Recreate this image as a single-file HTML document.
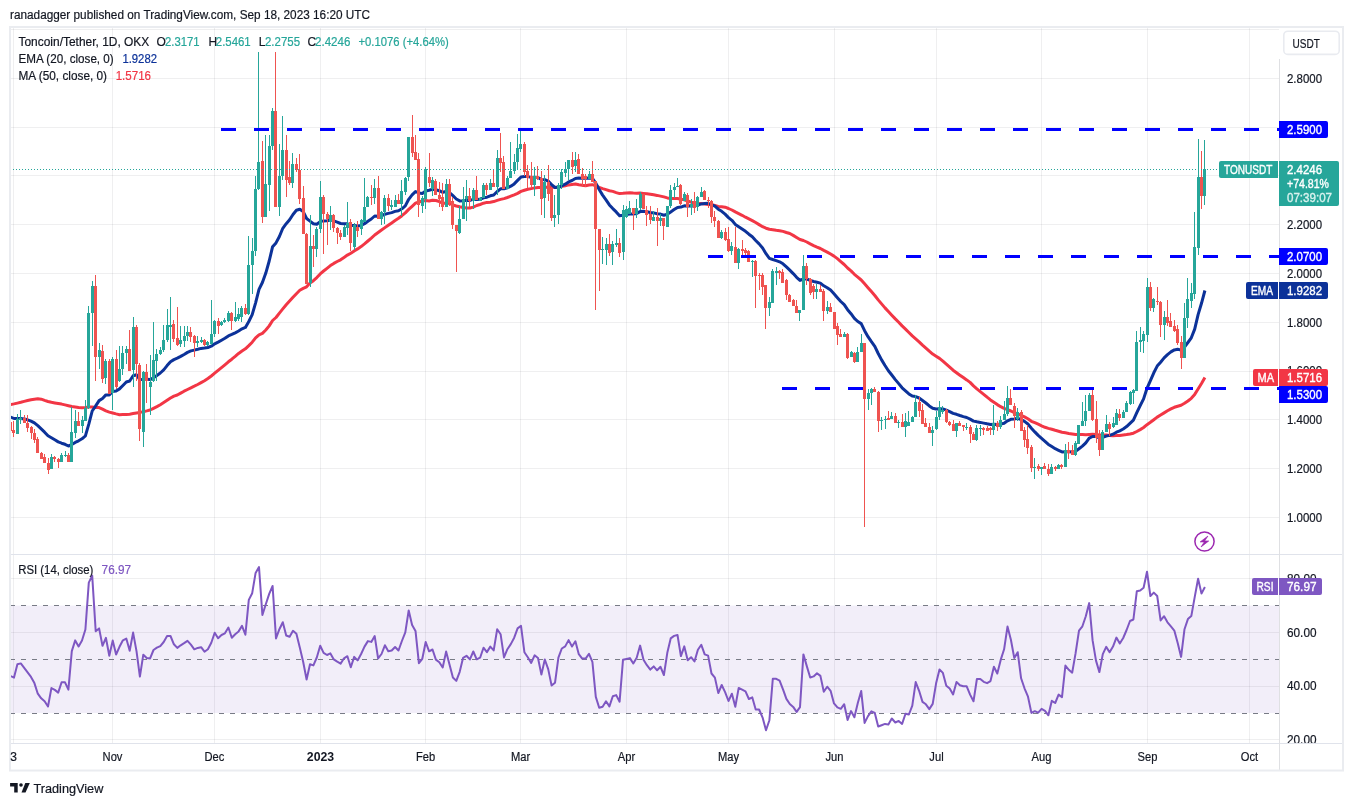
<!DOCTYPE html>
<html><head><meta charset="utf-8"><style>
html,body{margin:0;padding:0;background:#fff;width:1353px;height:806px;overflow:hidden}
svg{display:block;font-family:"Liberation Sans", sans-serif;will-change:transform}
</style></head><body>
<svg width="1353" height="806" viewBox="0 0 1353 806">
<defs><clipPath id="pane"><rect x="11" y="28" width="1268" height="526"/></clipPath><clipPath id="rsiaxis"><rect x="1280" y="555" width="62" height="188"/></clipPath><clipPath id="rsipane"><rect x="11" y="555" width="1268" height="188"/></clipPath></defs>
<rect x="0" y="0" width="1353" height="806" fill="#ffffff"/><line x1="13.5" y1="28" x2="13.5" y2="743" stroke="#2a2e39" stroke-opacity="0.075" stroke-width="1"/><line x1="112.5" y1="28" x2="112.5" y2="743" stroke="#2a2e39" stroke-opacity="0.075" stroke-width="1"/><line x1="214.5" y1="28" x2="214.5" y2="743" stroke="#2a2e39" stroke-opacity="0.075" stroke-width="1"/><line x1="320.5" y1="28" x2="320.5" y2="743" stroke="#2a2e39" stroke-opacity="0.075" stroke-width="1"/><line x1="425.5" y1="28" x2="425.5" y2="743" stroke="#2a2e39" stroke-opacity="0.075" stroke-width="1"/><line x1="520.5" y1="28" x2="520.5" y2="743" stroke="#2a2e39" stroke-opacity="0.075" stroke-width="1"/><line x1="626.5" y1="28" x2="626.5" y2="743" stroke="#2a2e39" stroke-opacity="0.075" stroke-width="1"/><line x1="728.5" y1="28" x2="728.5" y2="743" stroke="#2a2e39" stroke-opacity="0.075" stroke-width="1"/><line x1="834.5" y1="28" x2="834.5" y2="743" stroke="#2a2e39" stroke-opacity="0.075" stroke-width="1"/><line x1="936.5" y1="28" x2="936.5" y2="743" stroke="#2a2e39" stroke-opacity="0.075" stroke-width="1"/><line x1="1041.5" y1="28" x2="1041.5" y2="743" stroke="#2a2e39" stroke-opacity="0.075" stroke-width="1"/><line x1="1147.5" y1="28" x2="1147.5" y2="743" stroke="#2a2e39" stroke-opacity="0.075" stroke-width="1"/><line x1="1249.5" y1="28" x2="1249.5" y2="743" stroke="#2a2e39" stroke-opacity="0.075" stroke-width="1"/><line x1="11" y1="29.5" x2="1279" y2="29.5" stroke="#2a2e39" stroke-opacity="0.075" stroke-width="1"/><line x1="11" y1="78.5" x2="1279" y2="78.5" stroke="#2a2e39" stroke-opacity="0.075" stroke-width="1"/><line x1="11" y1="127.5" x2="1279" y2="127.5" stroke="#2a2e39" stroke-opacity="0.075" stroke-width="1"/><line x1="11" y1="175.5" x2="1279" y2="175.5" stroke="#2a2e39" stroke-opacity="0.075" stroke-width="1"/><line x1="11" y1="224.5" x2="1279" y2="224.5" stroke="#2a2e39" stroke-opacity="0.075" stroke-width="1"/><line x1="11" y1="273.5" x2="1279" y2="273.5" stroke="#2a2e39" stroke-opacity="0.075" stroke-width="1"/><line x1="11" y1="322.5" x2="1279" y2="322.5" stroke="#2a2e39" stroke-opacity="0.075" stroke-width="1"/><line x1="11" y1="371.5" x2="1279" y2="371.5" stroke="#2a2e39" stroke-opacity="0.075" stroke-width="1"/><line x1="11" y1="419.5" x2="1279" y2="419.5" stroke="#2a2e39" stroke-opacity="0.075" stroke-width="1"/><line x1="11" y1="468.5" x2="1279" y2="468.5" stroke="#2a2e39" stroke-opacity="0.075" stroke-width="1"/><line x1="11" y1="517.5" x2="1279" y2="517.5" stroke="#2a2e39" stroke-opacity="0.075" stroke-width="1"/><rect x="11" y="605.55" width="1268" height="107.5" fill="#7e57c2" fill-opacity="0.1"/><line x1="11" y1="578.5" x2="1279" y2="578.5" stroke="#2a2e39" stroke-opacity="0.075" stroke-width="1"/><line x1="11" y1="632.5" x2="1279" y2="632.5" stroke="#2a2e39" stroke-opacity="0.075" stroke-width="1"/><line x1="11" y1="686.5" x2="1279" y2="686.5" stroke="#2a2e39" stroke-opacity="0.075" stroke-width="1"/><line x1="11" y1="739.5" x2="1279" y2="739.5" stroke="#2a2e39" stroke-opacity="0.075" stroke-width="1"/><line x1="11" y1="605.5" x2="1279" y2="605.5" stroke="#787b86" stroke-width="1" stroke-dasharray="5,6" stroke-dashoffset="1"/><line x1="11" y1="659.5" x2="1279" y2="659.5" stroke="#787b86" stroke-width="1" stroke-dasharray="5,6" stroke-dashoffset="1"/><line x1="11" y1="713.5" x2="1279" y2="713.5" stroke="#787b86" stroke-width="1" stroke-dasharray="5,6" stroke-dashoffset="1"/><g clip-path="url(#pane)"><path d="M10.6,404.6 L14.0,403.9 L17.4,403.1 L20.8,402.3 L24.2,401.4 L27.6,400.5 L31.0,399.7 L34.4,399.2 L37.8,398.8 L41.2,399.2 L44.6,400.4 L48.0,401.5 L51.4,402.3 L54.8,402.9 L58.2,403.5 L61.6,404.1 L65.0,404.9 L68.4,405.7 L71.8,406.5 L75.2,407.0 L78.6,407.5 L82.0,407.8 L85.4,407.5 L88.8,407.1 L92.2,407.1 L95.7,407.4 L99.1,407.6 L102.5,409.2 L105.9,410.9 L109.3,412.1 L112.7,413.0 L116.1,413.9 L119.5,414.7 L122.9,414.5 L126.3,414.4 L129.7,414.2 L133.1,413.6 L136.5,413.0 L139.9,412.4 L143.3,411.7 L146.7,410.9 L150.1,410.0 L153.5,408.3 L156.9,406.6 L160.3,404.7 L163.7,402.5 L167.1,400.2 L170.5,398.0 L173.9,396.1 L177.3,395.0 L180.7,393.1 L184.1,391.2 L187.5,389.5 L190.9,387.8 L194.3,386.2 L197.7,384.5 L201.1,382.6 L204.5,380.7 L207.9,378.5 L211.3,376.0 L214.7,373.2 L218.1,370.3 L221.5,367.6 L224.9,364.8 L228.4,361.8 L231.8,359.2 L235.2,356.4 L238.6,353.4 L242.0,351.0 L245.4,348.8 L248.8,345.6 L252.2,342.2 L255.6,337.8 L259.0,334.8 L262.4,333.4 L265.8,330.0 L269.2,325.9 L272.6,320.5 L276.0,317.5 L279.4,313.1 L282.8,308.9 L286.2,304.8 L289.6,301.1 L293.0,297.3 L296.4,293.7 L299.8,290.3 L303.2,288.4 L306.6,286.8 L310.0,283.1 L313.4,280.7 L316.8,277.6 L320.2,273.9 L323.6,271.0 L327.0,268.3 L330.4,265.6 L333.8,263.4 L337.2,261.5 L340.6,259.8 L344.0,257.5 L347.4,255.1 L350.8,253.2 L354.2,250.9 L357.6,248.9 L361.1,246.6 L364.5,243.9 L367.9,241.0 L371.3,238.1 L374.7,235.0 L378.1,232.5 L381.5,230.1 L384.9,227.6 L388.3,225.2 L391.7,222.9 L395.1,220.5 L398.5,218.3 L401.9,215.7 L405.3,212.9 L408.7,209.4 L412.1,206.3 L415.5,203.2 L418.9,202.0 L422.3,201.0 L425.7,200.6 L429.1,201.0 L432.5,200.2 L435.9,200.5 L439.3,201.5 L442.7,203.4 L446.1,203.0 L449.5,203.5 L452.9,205.0 L456.3,206.0 L459.7,206.8 L463.1,207.5 L466.5,208.0 L469.9,208.0 L473.3,207.1 L476.7,205.5 L480.1,204.5 L483.5,203.2 L486.9,202.4 L490.3,202.2 L493.7,201.6 L497.2,200.4 L500.6,199.4 L504.0,198.6 L507.4,197.5 L510.8,196.2 L514.2,194.9 L517.6,193.4 L521.0,191.4 L524.4,190.3 L527.8,189.3 L531.2,188.6 L534.6,187.9 L538.0,187.6 L541.4,187.6 L544.8,187.5 L548.2,187.0 L551.6,187.1 L555.0,187.4 L558.4,187.0 L561.8,186.4 L565.2,185.7 L568.6,184.9 L572.0,184.4 L575.4,184.0 L578.8,184.8 L582.2,185.3 L585.6,185.7 L589.0,185.0 L592.4,184.7 L595.8,185.9 L599.2,187.3 L602.6,188.6 L606.0,189.6 L609.4,190.7 L612.8,191.4 L616.2,192.6 L619.6,193.6 L623.0,193.3 L626.4,192.9 L629.9,192.7 L633.3,193.0 L636.7,193.2 L640.1,193.1 L643.5,193.4 L646.9,193.7 L650.3,194.2 L653.7,194.8 L657.1,195.4 L660.5,196.1 L663.9,196.9 L667.3,197.9 L670.7,198.4 L674.1,198.4 L677.5,198.5 L680.9,199.2 L684.3,199.8 L687.7,201.0 L691.1,202.2 L694.5,202.9 L697.9,203.3 L701.3,203.5 L704.7,203.9 L708.1,204.4 L711.5,204.7 L714.9,205.5 L718.3,206.4 L721.7,206.7 L725.1,207.2 L728.5,208.5 L731.9,210.0 L735.3,211.9 L738.7,213.6 L742.1,215.3 L745.5,217.2 L748.9,218.9 L752.3,220.6 L755.7,222.5 L759.1,224.6 L762.6,226.7 L766.0,228.2 L769.4,229.3 L772.8,229.7 L776.2,230.3 L779.6,230.7 L783.0,231.4 L786.4,232.5 L789.8,233.5 L793.2,235.4 L796.6,237.5 L800.0,239.5 L803.4,240.5 L806.8,242.0 L810.2,243.9 L813.6,245.6 L817.0,247.1 L820.4,248.5 L823.8,250.4 L827.2,252.1 L830.6,254.0 L834.0,256.1 L837.4,258.6 L840.8,261.6 L844.2,264.5 L847.6,268.0 L851.0,270.9 L854.4,274.3 L857.8,277.2 L861.2,280.0 L864.6,283.8 L868.0,287.7 L871.4,291.6 L874.8,295.5 L878.2,299.9 L881.6,303.9 L885.0,307.9 L888.4,311.5 L891.8,315.2 L895.3,318.9 L898.7,322.3 L902.1,325.9 L905.5,329.1 L908.9,332.5 L912.3,335.9 L915.7,338.8 L919.1,341.8 L922.5,345.1 L925.9,348.1 L929.3,351.2 L932.7,354.1 L936.1,356.3 L939.5,358.4 L942.9,361.2 L946.3,364.2 L949.7,367.2 L953.1,370.2 L956.5,372.7 L959.9,375.2 L963.3,377.6 L966.7,379.9 L970.1,382.4 L973.5,385.9 L976.9,388.9 L980.3,391.6 L983.7,394.3 L987.1,397.2 L990.5,399.9 L993.9,402.2 L997.3,404.6 L1000.7,406.7 L1004.1,408.4 L1007.5,409.7 L1010.9,411.0 L1014.3,412.7 L1017.7,413.8 L1021.1,415.3 L1024.5,416.9 L1027.9,418.8 L1031.4,421.3 L1034.8,422.7 L1038.2,424.2 L1041.6,425.8 L1045.0,427.3 L1048.4,428.4 L1051.8,429.3 L1055.2,430.3 L1058.6,431.2 L1062.0,432.2 L1065.4,432.8 L1068.8,433.4 L1072.2,433.9 L1075.6,434.4 L1079.0,434.4 L1082.4,434.5 L1085.8,434.7 L1089.2,434.4 L1092.6,434.3 L1096.0,434.5 L1099.4,434.9 L1102.8,434.9 L1106.2,435.0 L1109.6,435.5 L1113.0,435.7 L1116.4,435.6 L1119.8,435.4 L1123.2,435.0 L1126.6,434.6 L1130.0,434.0 L1133.4,433.2 L1136.8,431.5 L1140.2,429.6 L1143.6,427.5 L1147.0,424.7 L1150.4,422.3 L1153.8,419.7 L1157.2,417.1 L1160.6,415.0 L1164.1,412.9 L1167.5,410.8 L1170.9,408.9 L1174.3,407.3 L1177.7,406.2 L1181.1,405.2 L1184.5,403.3 L1187.9,401.0 L1191.3,398.3 L1194.7,394.4 L1198.1,389.0 L1201.5,383.5 L1204.9,377.6" stroke="#f23645" stroke-width="3" fill="none" stroke-linejoin="round"/><path d="M10.6,417.0 L14.0,418.5 L17.4,418.6 L20.8,418.5 L24.2,418.9 L27.6,419.8 L31.0,421.1 L34.4,422.9 L37.8,425.7 L41.2,428.9 L44.6,432.2 L48.0,435.8 L51.4,437.8 L54.8,439.8 L58.2,441.9 L61.6,443.2 L65.0,444.3 L68.4,446.0 L71.8,444.6 L75.2,442.4 L78.6,440.8 L82.0,438.8 L85.4,435.9 L88.8,424.2 L92.2,411.0 L95.7,405.9 L99.1,400.6 L102.5,398.5 L105.9,394.9 L109.3,394.9 L112.7,391.4 L116.1,391.0 L119.5,388.9 L122.9,385.5 L126.3,382.0 L129.7,381.0 L133.1,375.8 L136.5,374.7 L139.9,379.9 L143.3,379.1 L146.7,379.3 L150.1,379.6 L153.5,377.7 L156.9,375.4 L160.3,373.0 L163.7,369.9 L167.1,365.6 L170.5,361.7 L173.9,359.6 L177.3,358.2 L180.7,356.4 L184.1,354.5 L187.5,352.4 L190.9,350.9 L194.3,350.1 L197.7,349.3 L201.1,348.4 L204.5,348.1 L207.9,347.5 L211.3,346.2 L214.7,343.8 L218.1,342.1 L221.5,340.2 L224.9,338.3 L228.4,335.9 L231.8,334.4 L235.2,332.8 L238.6,331.0 L242.0,328.8 L245.4,327.4 L248.8,321.5 L252.2,314.7 L255.6,302.8 L259.0,289.4 L262.4,282.5 L265.8,273.1 L269.2,261.0 L272.6,246.7 L276.0,242.9 L279.4,236.5 L282.8,228.3 L286.2,223.7 L289.6,219.8 L293.0,214.5 L296.4,210.3 L299.8,209.2 L303.2,211.6 L306.6,218.5 L310.0,221.1 L313.4,223.7 L316.8,224.2 L320.2,221.6 L323.6,220.9 L327.0,220.7 L330.4,220.2 L333.8,220.9 L337.2,222.1 L340.6,223.5 L344.0,223.8 L347.4,223.8 L350.8,225.6 L354.2,225.5 L357.6,226.1 L361.1,225.5 L364.5,223.7 L367.9,221.2 L371.3,219.0 L374.7,216.0 L378.1,216.3 L381.5,215.9 L384.9,214.2 L388.3,213.4 L391.7,212.6 L395.1,211.4 L398.5,210.7 L401.9,208.8 L405.3,205.9 L408.7,199.3 L412.1,194.9 L415.5,191.6 L418.9,192.9 L422.3,193.4 L425.7,191.0 L429.1,190.3 L432.5,189.3 L435.9,189.8 L439.3,190.7 L442.7,192.3 L446.1,191.5 L449.5,192.6 L452.9,195.7 L456.3,199.0 L459.7,200.9 L463.1,200.7 L466.5,200.3 L469.9,200.4 L473.3,199.4 L476.7,199.4 L480.1,199.3 L483.5,197.9 L486.9,197.2 L490.3,195.8 L493.7,195.0 L497.2,191.5 L500.6,188.8 L504.0,188.8 L507.4,187.8 L510.8,186.2 L514.2,183.9 L517.6,180.4 L521.0,177.0 L524.4,176.5 L527.8,176.6 L531.2,177.4 L534.6,177.3 L538.0,177.5 L541.4,179.5 L544.8,179.7 L548.2,181.1 L551.6,184.6 L555.0,187.5 L558.4,187.3 L561.8,185.8 L565.2,184.2 L568.6,181.9 L572.0,180.5 L575.4,178.5 L578.8,178.1 L582.2,178.2 L585.6,178.3 L589.0,177.9 L592.4,178.3 L595.8,183.1 L599.2,189.5 L602.6,195.1 L606.0,199.8 L609.4,204.9 L612.8,208.6 L616.2,211.9 L619.6,215.8 L623.0,215.2 L626.4,214.6 L629.9,214.0 L633.3,214.0 L636.7,213.4 L640.1,211.6 L643.5,211.3 L646.9,211.7 L650.3,212.5 L653.7,212.9 L657.1,213.7 L660.5,214.1 L663.9,215.2 L667.3,214.3 L670.7,212.0 L674.1,209.6 L677.5,207.4 L680.9,207.1 L684.3,205.8 L687.7,205.9 L691.1,205.8 L694.5,206.0 L697.9,205.1 L701.3,203.9 L704.7,203.5 L708.1,203.3 L711.5,204.6 L714.9,206.1 L718.3,209.2 L721.7,211.3 L725.1,214.1 L728.5,217.6 L731.9,220.3 L735.3,224.4 L738.7,226.7 L742.1,229.0 L745.5,231.3 L748.9,234.2 L752.3,236.8 L755.7,240.5 L759.1,243.9 L762.6,248.0 L766.0,253.7 L769.4,258.3 L772.8,259.5 L776.2,260.6 L779.6,261.8 L783.0,263.8 L786.4,266.8 L789.8,270.1 L793.2,273.6 L796.6,277.3 L800.0,280.4 L803.4,279.0 L806.8,279.0 L810.2,280.4 L813.6,281.5 L817.0,282.2 L820.4,283.1 L823.8,285.8 L827.2,287.8 L830.6,290.1 L834.0,293.8 L837.4,297.7 L840.8,301.5 L844.2,304.6 L847.6,309.7 L851.0,313.7 L854.4,318.3 L857.8,321.5 L861.2,323.6 L864.6,330.7 L868.0,336.7 L871.4,341.7 L874.8,346.4 L878.2,353.5 L881.6,359.9 L885.0,365.5 L888.4,370.7 L891.8,375.0 L895.3,379.6 L898.7,383.6 L902.1,387.8 L905.5,390.9 L908.9,393.9 L912.3,396.1 L915.7,396.6 L919.1,398.0 L922.5,400.5 L925.9,403.0 L929.3,405.9 L932.7,408.2 L936.1,409.0 L939.5,408.8 L942.9,408.9 L946.3,410.2 L949.7,411.6 L953.1,413.4 L956.5,414.3 L959.9,415.5 L963.3,416.6 L966.7,417.5 L970.1,419.1 L973.5,421.1 L976.9,421.8 L980.3,422.4 L983.7,423.1 L987.1,423.8 L990.5,424.4 L993.9,424.3 L997.3,424.5 L1000.7,424.1 L1004.1,423.2 L1007.5,420.8 L1010.9,419.3 L1014.3,418.9 L1017.7,418.3 L1021.1,419.5 L1024.5,421.4 L1027.9,424.0 L1031.4,428.2 L1034.8,431.9 L1038.2,435.4 L1041.6,438.4 L1045.0,441.3 L1048.4,444.4 L1051.8,446.6 L1055.2,448.7 L1058.6,450.3 L1062.0,451.9 L1065.4,451.7 L1068.8,451.8 L1072.2,452.1 L1075.6,451.2 L1079.0,448.7 L1082.4,446.1 L1085.8,442.8 L1089.2,438.2 L1092.6,436.5 L1096.0,436.6 L1099.4,437.9 L1102.8,437.3 L1106.2,436.1 L1109.6,435.4 L1113.0,434.2 L1116.4,432.2 L1119.8,430.8 L1123.2,429.0 L1126.6,426.6 L1130.0,423.3 L1133.4,420.1 L1136.8,412.7 L1140.2,405.7 L1143.6,398.9 L1147.0,388.3 L1150.4,380.6 L1153.8,372.8 L1157.2,366.1 L1160.6,362.2 L1164.1,357.9 L1167.5,354.6 L1170.9,351.9 L1174.3,349.9 L1177.7,349.3 L1181.1,350.1 L1184.5,347.0 L1187.9,342.5 L1191.3,337.8 L1194.7,329.1 L1198.1,314.6 L1201.5,303.3 L1204.9,290.5" stroke="#0c3299" stroke-width="3" fill="none" stroke-linejoin="round"/><path d="M17.5,414.0V434.0M20.5,410.0V424.0M51.5,454.0V469.0M61.5,453.0V462.0M65.5,451.0V457.0M71.5,407.0V462.0M75.5,410.0V438.0M82.5,416.0V433.0M85.5,400.0V421.0M88.5,306.0V409.0M92.5,281.0V346.0M99.5,343.0V369.0M105.5,359.0V384.0M112.5,357.0V410.0M119.5,346.0V382.0M122.5,346.0V375.0M126.5,346.0V364.0M133.5,317.0V387.0M143.5,371.0V447.0M150.5,355.0V415.0M153.5,322.0V382.0M156.5,349.0V381.0M160.5,347.0V355.0M163.5,325.0V352.0M167.5,309.0V342.0M170.5,297.0V350.0M180.5,326.0V347.0M184.5,326.0V347.0M187.5,326.0V341.0M197.5,336.0V347.0M201.5,337.0V343.0M207.5,341.0V346.0M211.5,300.0V345.0M214.5,320.0V337.0M221.5,321.0V326.0M224.5,318.0V323.0M228.5,311.0V322.0M235.5,302.0V322.0M238.5,308.0V321.0M241.5,306.0V322.0M248.5,236.0V315.0M252.5,238.0V294.0M255.5,176.0V256.0M258.5,52.0V190.0M265.5,135.0V217.0M269.5,135.0V211.0M272.5,108.0V150.0M279.5,144.0V216.0M282.5,116.0V180.0M292.5,153.0V188.0M310.5,215.0V287.0M316.5,227.0V257.0M320.5,181.0V233.0M330.5,206.0V230.0M344.5,225.0V237.0M347.5,202.0V235.0M354.5,223.0V250.0M361.5,219.0V235.0M364.5,178.0V222.0M367.5,196.0V207.0M374.5,179.0V204.0M381.5,211.0V225.0M384.5,195.0V224.0M391.5,200.0V210.0M395.5,195.0V207.0M401.5,180.0V216.0M405.5,177.0V195.0M408.5,137.0V181.0M422.5,196.0V213.0M425.5,167.0V209.0M432.5,177.0V196.0M446.5,179.0V207.0M459.5,206.0V234.0M463.5,187.0V219.0M466.5,180.0V221.0M473.5,188.0V209.0M480.5,197.0V201.0M483.5,183.0V198.0M490.5,179.0V190.0M497.5,150.0V195.0M507.5,176.0V189.0M510.5,142.0V178.0M514.5,154.0V174.0M517.5,134.0V170.0M520.5,131.0V152.0M534.5,167.0V196.0M544.5,175.0V218.0M554.5,195.0V227.0M558.5,183.0V224.0M561.5,169.0V189.0M565.5,162.0V177.0M568.5,160.0V180.0M575.5,152.0V172.0M589.5,171.0V179.0M602.5,237.0V264.0M606.5,238.0V265.0M612.5,241.0V265.0M616.5,229.0V247.0M623.5,205.0V260.0M626.5,206.0V218.0M629.5,201.0V214.0M636.5,199.0V218.0M640.5,192.0V210.0M653.5,211.0V221.0M660.5,214.0V226.0M667.5,206.0V227.0M670.5,185.0V208.0M674.5,183.0V198.0M677.5,178.0V187.0M684.5,192.0V201.0M691.5,199.0V215.0M697.5,196.0V211.0M701.5,187.0V197.0M721.5,230.0V239.0M731.5,242.0V255.0M738.5,248.0V269.0M752.5,260.0V277.0M769.5,297.0V316.0M772.5,269.0V303.0M776.5,267.0V285.0M799.5,310.0V321.0M803.5,255.0V310.0M816.5,284.0V299.0M827.5,301.0V314.0M844.5,332.0V337.0M851.5,351.0V357.0M857.5,347.0V362.0M861.5,334.0V352.0M868.5,389.0V410.0M871.5,388.0V405.0M881.5,417.0V430.0M885.5,416.0V429.0M891.5,412.0V419.0M898.5,420.0V428.0M905.5,413.0V437.0M908.5,411.0V426.0M912.5,416.0V422.0M915.5,395.0V417.0M932.5,426.0V446.0M936.5,411.0V430.0M939.5,401.0V420.0M942.5,406.0V414.0M956.5,423.0V437.0M966.5,423.0V430.0M976.5,425.0V441.0M980.5,425.0V436.0M993.5,405.0V435.0M1000.5,416.0V429.0M1004.5,401.0V420.0M1007.5,386.0V416.0M1017.5,408.0V421.0M1034.5,458.0V479.0M1041.5,467.0V475.0M1051.5,464.0V474.0M1058.5,464.0V469.0M1065.5,444.0V467.0M1075.5,441.0V456.0M1078.5,425.0V444.0M1082.5,402.0V426.0M1085.5,395.0V426.0M1089.5,393.0V411.0M1102.5,430.0V450.0M1106.5,415.0V432.0M1113.5,417.0V428.0M1116.5,409.0V425.0M1123.5,410.0V418.0M1126.5,401.0V412.0M1130.5,391.0V405.0M1133.5,389.0V404.0M1136.5,331.0V391.0M1140.5,327.0V352.0M1143.5,331.0V353.0M1147.5,278.0V342.0M1153.5,298.0V312.0M1164.5,311.0V340.0M1184.5,303.0V358.0M1187.5,278.0V328.0M1191.5,283.0V308.0M1194.5,212.0V299.0M1198.5,139.0V255.0M1204.5,140.0V205.0" stroke="#26a69a" stroke-width="1" fill="none"/><path d="M10.5,421.0V432.0M13.5,421.0V437.0M24.5,415.0V423.0M27.5,415.0V432.0M31.5,426.0V439.0M34.5,429.0V443.0M37.5,437.0V453.0M41.5,452.0V459.0M44.5,454.0V463.0M48.5,458.0V474.0M54.5,456.0V462.0M58.5,458.0V468.0M68.5,453.0V462.0M78.5,412.0V426.0M95.5,275.0V381.0M102.5,345.0V383.0M109.5,359.0V394.0M116.5,350.0V389.0M129.5,330.0V371.0M136.5,325.0V381.0M139.5,363.0V441.0M146.5,364.0V403.0M173.5,320.0V342.0M177.5,307.0V346.0M190.5,327.0V342.0M194.5,335.0V357.0M204.5,339.0V346.0M218.5,318.0V334.0M231.5,312.0V330.0M245.5,304.0V315.0M262.5,141.0V223.0M275.5,52.0V207.0M286.5,135.0V197.0M289.5,161.0V185.0M296.5,158.0V172.0M299.5,154.0V204.0M303.5,186.0V234.0M306.5,233.0V284.0M313.5,235.0V267.0M323.5,195.0V254.0M327.5,212.0V245.0M333.5,214.0V232.0M337.5,227.0V244.0M340.5,230.0V240.0M350.5,219.0V251.0M357.5,221.0V237.0M371.5,185.0V205.0M378.5,176.0V219.0M388.5,194.0V211.0M398.5,194.0V204.0M412.5,115.0V157.0M415.5,135.0V160.0M418.5,153.0V217.0M429.5,153.0V187.0M435.5,179.0V195.0M439.5,182.0V207.0M442.5,183.0V211.0M449.5,179.0V206.0M452.5,197.0V229.0M456.5,225.0V272.0M469.5,188.0V207.0M476.5,176.0V200.0M486.5,183.0V195.0M493.5,169.0V187.0M500.5,133.0V172.0M503.5,156.0V189.0M524.5,142.0V176.0M527.5,165.0V188.0M531.5,162.0V187.0M537.5,166.0V180.0M541.5,171.0V215.0M548.5,165.0V201.0M551.5,187.0V221.0M572.5,152.0V174.0M578.5,154.0V174.0M582.5,168.0V187.0M585.5,174.0V187.0M592.5,161.0V182.0M595.5,181.0V310.0M599.5,229.0V291.0M609.5,234.0V256.0M619.5,238.0V257.0M633.5,208.0V230.0M643.5,194.0V209.0M646.5,206.0V226.0M650.5,206.0V224.0M657.5,208.0V246.0M663.5,218.0V240.0M680.5,184.0V205.0M687.5,193.0V217.0M694.5,192.0V213.0M704.5,190.0V200.0M708.5,197.0V208.0M711.5,200.0V223.0M714.5,211.0V227.0M718.5,220.0V238.0M725.5,228.0V241.0M728.5,227.0V252.0M735.5,227.0V263.0M742.5,240.0V255.0M745.5,248.0V257.0M748.5,250.0V262.0M755.5,260.0V308.0M759.5,273.0V290.0M762.5,273.0V295.0M765.5,285.0V329.0M779.5,270.0V279.0M782.5,269.0V283.0M786.5,279.0V300.0M789.5,294.0V302.0M793.5,299.0V306.0M796.5,300.0V313.0M806.5,263.0V285.0M810.5,278.0V295.0M813.5,284.0V299.0M820.5,285.0V292.0M823.5,289.0V321.0M830.5,303.0V312.0M834.5,312.0V329.0M837.5,323.0V345.0M840.5,329.0V337.0M847.5,333.0V359.0M854.5,352.0V363.0M864.5,343.0V527.0M874.5,387.0V392.0M878.5,391.0V432.0M888.5,411.0V420.0M895.5,413.0V423.0M902.5,414.0V427.0M919.5,397.0V417.0M922.5,404.0V424.0M925.5,418.0V427.0M929.5,423.0V433.0M946.5,409.0V423.0M949.5,421.0V426.0M953.5,420.0V431.0M959.5,421.0V426.0M963.5,425.0V431.0M970.5,425.0V443.0M973.5,432.0V440.0M983.5,427.0V435.0M987.5,426.0V431.0M990.5,427.0V435.0M997.5,421.0V431.0M1010.5,389.0V405.0M1014.5,403.0V428.0M1021.5,410.0V431.0M1024.5,427.0V447.0M1027.5,425.0V454.0M1031.5,445.0V472.0M1038.5,464.0V471.0M1044.5,463.0V469.0M1048.5,464.0V476.0M1055.5,466.0V471.0M1061.5,464.0V469.0M1068.5,442.0V459.0M1072.5,445.0V455.0M1092.5,389.0V421.0M1096.5,401.0V443.0M1099.5,430.0V456.0M1109.5,422.0V436.0M1119.5,409.0V421.0M1150.5,282.0V311.0M1157.5,287.0V305.0M1160.5,301.0V337.0M1167.5,300.0V326.0M1170.5,313.0V327.0M1174.5,320.0V332.0M1177.5,325.0V345.0M1181.5,336.0V369.0M1201.5,151.0V209.0" stroke="#ef5350" stroke-width="1" fill="none"/><path d="M16,419.0h3V434.0h-3ZM19,418.0h3V420.0h-3ZM50,457.0h3V469.0h-3ZM60,455.0h3V462.0h-3ZM64,455.0h3V456.0h-3ZM70,432.0h3V462.0h-3ZM74,421.0h3V433.0h-3ZM81,420.0h3V426.0h-3ZM84,408.0h3V421.0h-3ZM87,313.0h3V408.0h-3ZM91,286.0h3V313.0h-3ZM98,350.0h3V357.0h-3ZM104,361.0h3V378.0h-3ZM111,359.0h3V393.0h-3ZM118,369.0h3V381.0h-3ZM121,353.0h3V369.0h-3ZM125,349.0h3V353.0h-3ZM132,327.0h3V370.0h-3ZM142,372.0h3V432.0h-3ZM149,382.0h3V387.0h-3ZM152,360.0h3V381.0h-3ZM155,354.0h3V361.0h-3ZM159,350.0h3V354.0h-3ZM162,340.0h3V350.0h-3ZM166,325.0h3V340.0h-3ZM169,325.0h3V327.0h-3ZM179,340.0h3V344.0h-3ZM183,336.0h3V341.0h-3ZM186,332.0h3V336.0h-3ZM196,341.0h3V343.0h-3ZM200,340.0h3V342.0h-3ZM206,342.0h3V345.0h-3ZM210,334.0h3V344.0h-3ZM213,321.0h3V334.0h-3ZM220,322.0h3V325.0h-3ZM223,320.0h3V322.0h-3ZM227,313.0h3V321.0h-3ZM234,317.0h3V321.0h-3ZM237,314.0h3V319.0h-3ZM240,308.0h3V317.0h-3ZM247,265.0h3V314.0h-3ZM251,251.0h3V265.0h-3ZM254,189.0h3V251.0h-3ZM257,162.0h3V189.0h-3ZM264,184.0h3V217.0h-3ZM268,146.0h3V185.0h-3ZM271,111.0h3V146.0h-3ZM278,176.0h3V207.0h-3ZM281,150.0h3V176.0h-3ZM291,164.0h3V183.0h-3ZM309,246.0h3V283.0h-3ZM315,229.0h3V249.0h-3ZM319,197.0h3V229.0h-3ZM329,215.0h3V222.0h-3ZM343,227.0h3V237.0h-3ZM346,223.0h3V228.0h-3ZM353,225.0h3V247.0h-3ZM360,220.0h3V229.0h-3ZM363,207.0h3V222.0h-3ZM366,197.0h3V207.0h-3ZM373,188.0h3V198.0h-3ZM380,212.0h3V219.0h-3ZM383,198.0h3V212.0h-3ZM390,205.0h3V207.0h-3ZM394,200.0h3V207.0h-3ZM400,191.0h3V204.0h-3ZM404,178.0h3V192.0h-3ZM407,137.0h3V177.0h-3ZM421,198.0h3V206.0h-3ZM424,169.0h3V199.0h-3ZM431,180.0h3V189.0h-3ZM445,184.0h3V207.0h-3ZM458,219.0h3V233.0h-3ZM462,199.0h3V219.0h-3ZM465,196.0h3V199.0h-3ZM472,190.0h3V201.0h-3ZM479,198.0h3V201.0h-3ZM482,185.0h3V198.0h-3ZM489,183.0h3V190.0h-3ZM496,158.0h3V187.0h-3ZM506,178.0h3V189.0h-3ZM509,171.0h3V178.0h-3ZM513,162.0h3V171.0h-3ZM516,148.0h3V162.0h-3ZM519,144.0h3V149.0h-3ZM533,176.0h3V185.0h-3ZM543,182.0h3V198.0h-3ZM553,215.0h3V218.0h-3ZM557,185.0h3V215.0h-3ZM560,172.0h3V185.0h-3ZM564,169.0h3V173.0h-3ZM567,160.0h3V169.0h-3ZM574,160.0h3V166.0h-3ZM588,174.0h3V179.0h-3ZM601,249.0h3V250.0h-3ZM605,244.0h3V250.0h-3ZM611,244.0h3V252.0h-3ZM615,243.0h3V245.0h-3ZM622,210.0h3V252.0h-3ZM625,209.0h3V217.0h-3ZM628,208.0h3V214.0h-3ZM635,208.0h3V214.0h-3ZM639,194.0h3V208.0h-3ZM652,217.0h3V221.0h-3ZM659,218.0h3V221.0h-3ZM666,206.0h3V227.0h-3ZM669,190.0h3V206.0h-3ZM673,187.0h3V190.0h-3ZM676,186.0h3V187.0h-3ZM683,194.0h3V201.0h-3ZM690,204.0h3V207.0h-3ZM696,197.0h3V207.0h-3ZM700,192.0h3V197.0h-3ZM720,232.0h3V238.0h-3ZM730,246.0h3V251.0h-3ZM737,249.0h3V263.0h-3ZM751,261.0h3V262.0h-3ZM768,302.0h3V308.0h-3ZM771,271.0h3V303.0h-3ZM775,271.0h3V273.0h-3ZM798,310.0h3V313.0h-3ZM802,266.0h3V310.0h-3ZM815,289.0h3V292.0h-3ZM826,307.0h3V311.0h-3ZM843,334.0h3V337.0h-3ZM850,352.0h3V357.0h-3ZM856,352.0h3V362.0h-3ZM860,343.0h3V352.0h-3ZM867,393.0h3V399.0h-3ZM870,389.0h3V393.0h-3ZM880,420.0h3V421.0h-3ZM884,419.0h3V420.0h-3ZM890,416.0h3V419.0h-3ZM897,422.0h3V423.0h-3ZM904,421.0h3V427.0h-3ZM907,422.0h3V426.0h-3ZM911,417.0h3V422.0h-3ZM914,402.0h3V417.0h-3ZM931,430.0h3V433.0h-3ZM935,417.0h3V429.0h-3ZM938,407.0h3V417.0h-3ZM941,410.0h3V412.0h-3ZM955,423.0h3V431.0h-3ZM965,427.0h3V428.0h-3ZM975,428.0h3V440.0h-3ZM979,428.0h3V429.0h-3ZM992,423.0h3V430.0h-3ZM999,420.0h3V427.0h-3ZM1003,414.0h3V420.0h-3ZM1006,398.0h3V414.0h-3ZM1016,412.0h3V419.0h-3ZM1033,467.0h3V468.0h-3ZM1040,467.0h3V469.0h-3ZM1050,467.0h3V474.0h-3ZM1057,465.0h3V469.0h-3ZM1064,450.0h3V467.0h-3ZM1074,443.0h3V455.0h-3ZM1077,425.0h3V444.0h-3ZM1081,421.0h3V426.0h-3ZM1084,411.0h3V421.0h-3ZM1088,395.0h3V411.0h-3ZM1101,432.0h3V450.0h-3ZM1105,424.0h3V432.0h-3ZM1112,423.0h3V427.0h-3ZM1115,413.0h3V425.0h-3ZM1122,412.0h3V418.0h-3ZM1125,403.0h3V412.0h-3ZM1129,392.0h3V404.0h-3ZM1132,390.0h3V393.0h-3ZM1135,342.0h3V391.0h-3ZM1139,340.0h3V342.0h-3ZM1142,334.0h3V341.0h-3ZM1146,287.0h3V335.0h-3ZM1152,299.0h3V308.0h-3ZM1163,317.0h3V325.0h-3ZM1183,318.0h3V358.0h-3ZM1186,299.0h3V318.0h-3ZM1190,293.0h3V301.0h-3ZM1193,247.0h3V294.0h-3ZM1197,177.0h3V248.0h-3ZM1203,169.0h3V196.0h-3Z" fill="#26a69a"/><path d="M9,422.0h3V431.0h-3ZM12,430.0h3V433.0h-3ZM23,418.0h3V423.0h-3ZM26,423.0h3V428.0h-3ZM30,427.0h3V433.0h-3ZM33,433.0h3V440.0h-3ZM36,439.0h3V453.0h-3ZM40,453.0h3V459.0h-3ZM43,457.0h3V463.0h-3ZM47,463.0h3V470.0h-3ZM53,457.0h3V459.0h-3ZM57,459.0h3V462.0h-3ZM67,455.0h3V462.0h-3ZM77,421.0h3V426.0h-3ZM94,286.0h3V357.0h-3ZM101,351.0h3V379.0h-3ZM108,361.0h3V394.0h-3ZM115,359.0h3V387.0h-3ZM128,349.0h3V371.0h-3ZM135,327.0h3V364.0h-3ZM138,365.0h3V429.0h-3ZM145,372.0h3V381.0h-3ZM172,324.0h3V339.0h-3ZM176,338.0h3V345.0h-3ZM189,332.0h3V337.0h-3ZM193,336.0h3V343.0h-3ZM203,340.0h3V345.0h-3ZM217,321.0h3V326.0h-3ZM230,313.0h3V321.0h-3ZM244,308.0h3V314.0h-3ZM261,161.0h3V217.0h-3ZM274,111.0h3V207.0h-3ZM285,150.0h3V180.0h-3ZM288,177.0h3V183.0h-3ZM295,164.0h3V170.0h-3ZM298,170.0h3V199.0h-3ZM302,198.0h3V234.0h-3ZM305,234.0h3V284.0h-3ZM312,246.0h3V249.0h-3ZM322,197.0h3V214.0h-3ZM326,214.0h3V219.0h-3ZM332,215.0h3V228.0h-3ZM336,228.0h3V233.0h-3ZM339,233.0h3V237.0h-3ZM349,222.0h3V243.0h-3ZM356,227.0h3V231.0h-3ZM370,197.0h3V198.0h-3ZM377,188.0h3V219.0h-3ZM387,198.0h3V206.0h-3ZM397,200.0h3V204.0h-3ZM411,137.0h3V153.0h-3ZM414,152.0h3V160.0h-3ZM417,159.0h3V205.0h-3ZM428,177.0h3V183.0h-3ZM434,181.0h3V195.0h-3ZM438,195.0h3V199.0h-3ZM441,197.0h3V207.0h-3ZM448,184.0h3V203.0h-3ZM451,201.0h3V225.0h-3ZM455,225.0h3V231.0h-3ZM468,196.0h3V201.0h-3ZM475,190.0h3V200.0h-3ZM485,185.0h3V190.0h-3ZM492,183.0h3V187.0h-3ZM499,158.0h3V163.0h-3ZM502,162.0h3V189.0h-3ZM523,144.0h3V172.0h-3ZM526,171.0h3V178.0h-3ZM530,176.0h3V185.0h-3ZM536,176.0h3V179.0h-3ZM540,178.0h3V199.0h-3ZM547,182.0h3V194.0h-3ZM550,188.0h3V218.0h-3ZM571,160.0h3V167.0h-3ZM577,159.0h3V174.0h-3ZM581,174.0h3V179.0h-3ZM584,176.0h3V179.0h-3ZM591,174.0h3V182.0h-3ZM594,181.0h3V229.0h-3ZM598,229.0h3V250.0h-3ZM608,244.0h3V253.0h-3ZM618,243.0h3V253.0h-3ZM632,208.0h3V214.0h-3ZM642,194.0h3V209.0h-3ZM645,210.0h3V215.0h-3ZM649,214.0h3V220.0h-3ZM656,217.0h3V221.0h-3ZM662,218.0h3V226.0h-3ZM679,185.0h3V204.0h-3ZM686,195.0h3V207.0h-3ZM693,201.0h3V208.0h-3ZM703,191.0h3V200.0h-3ZM707,200.0h3V201.0h-3ZM710,201.0h3V217.0h-3ZM713,217.0h3V221.0h-3ZM717,221.0h3V238.0h-3ZM724,232.0h3V240.0h-3ZM727,239.0h3V251.0h-3ZM734,247.0h3V263.0h-3ZM741,249.0h3V251.0h-3ZM744,250.0h3V253.0h-3ZM747,251.0h3V262.0h-3ZM754,261.0h3V276.0h-3ZM758,275.0h3V276.0h-3ZM761,275.0h3V287.0h-3ZM764,285.0h3V308.0h-3ZM778,271.0h3V273.0h-3ZM781,272.0h3V283.0h-3ZM785,280.0h3V295.0h-3ZM788,295.0h3V302.0h-3ZM792,300.0h3V306.0h-3ZM795,306.0h3V313.0h-3ZM805,266.0h3V279.0h-3ZM809,279.0h3V293.0h-3ZM812,286.0h3V292.0h-3ZM819,289.0h3V292.0h-3ZM822,291.0h3V311.0h-3ZM829,307.0h3V312.0h-3ZM833,312.0h3V329.0h-3ZM836,326.0h3V335.0h-3ZM839,334.0h3V337.0h-3ZM846,334.0h3V358.0h-3ZM853,353.0h3V362.0h-3ZM863,343.0h3V399.0h-3ZM873,389.0h3V392.0h-3ZM877,392.0h3V421.0h-3ZM887,418.0h3V420.0h-3ZM894,416.0h3V423.0h-3ZM901,422.0h3V427.0h-3ZM918,402.0h3V411.0h-3ZM921,410.0h3V424.0h-3ZM924,423.0h3V427.0h-3ZM928,427.0h3V433.0h-3ZM945,410.0h3V422.0h-3ZM948,422.0h3V425.0h-3ZM952,424.0h3V431.0h-3ZM958,423.0h3V426.0h-3ZM962,425.0h3V427.0h-3ZM969,427.0h3V434.0h-3ZM972,434.0h3V440.0h-3ZM982,428.0h3V430.0h-3ZM986,428.0h3V431.0h-3ZM989,428.0h3V430.0h-3ZM996,423.0h3V427.0h-3ZM1009,398.0h3V405.0h-3ZM1013,406.0h3V416.0h-3ZM1020,412.0h3V431.0h-3ZM1023,430.0h3V440.0h-3ZM1026,439.0h3V448.0h-3ZM1030,447.0h3V468.0h-3ZM1037,466.0h3V469.0h-3ZM1043,466.0h3V469.0h-3ZM1047,469.0h3V474.0h-3ZM1054,467.0h3V469.0h-3ZM1060,465.0h3V467.0h-3ZM1067,450.0h3V453.0h-3ZM1071,450.0h3V455.0h-3ZM1091,395.0h3V420.0h-3ZM1095,419.0h3V438.0h-3ZM1098,435.0h3V450.0h-3ZM1108,424.0h3V429.0h-3ZM1118,414.0h3V418.0h-3ZM1149,287.0h3V308.0h-3ZM1156,301.0h3V302.0h-3ZM1159,302.0h3V325.0h-3ZM1166,317.0h3V323.0h-3ZM1169,321.0h3V327.0h-3ZM1173,326.0h3V331.0h-3ZM1176,329.0h3V343.0h-3ZM1180,342.0h3V358.0h-3ZM1200,177.0h3V196.0h-3Z" fill="#ef5350"/></g><g clip-path="url(#rsipane)"><path d="M10.6,676.1 L14.0,677.6 L17.4,664.3 L20.8,663.4 L24.2,667.9 L27.6,672.4 L31.0,676.9 L34.4,683.1 L37.8,693.7 L41.2,698.3 L44.6,701.3 L48.0,706.5 L51.4,688.1 L54.8,689.9 L58.2,692.6 L61.6,682.3 L65.0,682.3 L68.4,689.7 L71.8,651.1 L75.2,640.4 L78.6,646.5 L82.0,640.5 L85.4,629.5 L88.8,582.6 L92.2,575.6 L95.7,631.2 L99.1,628.4 L102.5,645.8 L105.9,637.8 L109.3,655.7 L112.7,640.6 L116.1,654.5 L119.5,646.8 L122.9,640.3 L126.3,638.6 L129.7,650.7 L133.1,632.6 L136.5,651.1 L139.9,676.6 L143.3,654.7 L146.7,658.0 L150.1,658.4 L153.5,650.0 L156.9,647.7 L160.3,646.1 L163.7,642.0 L167.1,636.0 L170.5,636.0 L173.9,644.3 L177.3,647.9 L180.7,645.3 L184.1,643.2 L187.5,640.9 L190.9,644.7 L194.3,649.3 L197.7,647.9 L201.1,647.2 L204.5,651.7 L207.9,649.2 L211.3,642.7 L214.7,632.7 L218.1,638.2 L221.5,635.0 L224.9,633.3 L228.4,627.5 L231.8,637.8 L235.2,634.2 L238.6,631.4 L242.0,625.9 L245.4,634.7 L248.8,599.9 L252.2,593.2 L255.6,572.9 L259.0,567.0 L262.4,615.0 L265.8,604.2 L269.2,593.9 L272.6,586.0 L276.0,638.4 L279.4,629.2 L282.8,622.2 L286.2,635.5 L289.6,636.8 L293.0,630.8 L296.4,633.7 L299.8,647.4 L303.2,662.0 L306.6,679.5 L310.0,664.3 L313.4,665.4 L316.8,657.5 L320.2,645.8 L323.6,652.9 L327.0,655.0 L330.4,653.4 L333.8,659.4 L337.2,661.7 L340.6,663.6 L344.0,658.3 L347.4,656.2 L350.8,667.2 L354.2,656.9 L357.6,660.4 L361.1,654.0 L364.5,646.6 L367.9,641.1 L371.3,641.9 L374.7,636.1 L378.1,658.4 L381.5,654.0 L384.9,645.3 L388.3,651.2 L391.7,650.5 L395.1,647.0 L398.5,650.5 L401.9,641.0 L405.3,632.3 L408.7,610.4 L412.1,624.9 L415.5,630.9 L418.9,663.2 L422.3,658.8 L425.7,642.0 L429.1,651.3 L432.5,649.5 L435.9,659.6 L439.3,662.2 L442.7,667.5 L446.1,651.6 L449.5,664.5 L452.9,677.5 L456.3,680.9 L459.7,671.8 L463.1,657.8 L466.5,655.8 L469.9,659.4 L473.3,651.5 L476.7,659.3 L480.1,657.7 L483.5,647.7 L486.9,652.1 L490.3,646.6 L493.7,650.4 L497.2,629.2 L500.6,634.2 L504.0,657.4 L507.4,649.2 L510.8,644.1 L514.2,637.7 L517.6,628.4 L521.0,625.8 L524.4,652.2 L527.8,657.2 L531.2,662.9 L534.6,655.3 L538.0,658.0 L541.4,674.6 L544.8,659.5 L548.2,669.1 L551.6,685.6 L555.0,682.8 L558.4,657.7 L561.8,648.5 L565.2,646.4 L568.6,640.1 L572.0,646.5 L575.4,641.3 L578.8,654.2 L582.2,658.6 L585.6,658.6 L589.0,653.9 L592.4,661.8 L595.8,696.9 L599.2,707.8 L602.6,706.8 L606.0,701.3 L609.4,706.4 L612.8,696.2 L616.2,695.1 L619.6,701.7 L623.0,659.8 L626.4,659.0 L629.9,658.1 L633.3,663.5 L636.7,657.8 L640.1,645.6 L643.5,659.8 L646.9,665.2 L650.3,669.6 L653.7,666.4 L657.1,670.3 L660.5,666.8 L663.9,675.0 L667.3,652.8 L670.7,638.4 L674.1,635.9 L677.5,635.0 L680.9,656.1 L684.3,646.4 L687.7,660.2 L691.1,657.2 L694.5,661.5 L697.9,649.8 L701.3,644.8 L704.7,654.4 L708.1,655.6 L711.5,673.5 L714.9,677.6 L718.3,693.1 L721.7,685.0 L725.1,692.1 L728.5,701.0 L731.9,693.7 L735.3,706.8 L738.7,687.9 L742.1,689.6 L745.5,691.3 L748.9,699.0 L752.3,697.4 L755.7,709.5 L759.1,709.5 L762.6,717.6 L766.0,730.2 L769.4,720.2 L772.8,678.8 L776.2,678.8 L779.6,680.6 L783.0,689.4 L786.4,698.9 L789.8,704.0 L793.2,706.9 L796.6,711.9 L800.0,707.1 L803.4,654.4 L806.8,666.1 L810.2,677.5 L813.6,676.4 L817.0,673.2 L820.4,675.9 L823.8,691.7 L827.2,686.7 L830.6,690.8 L834.0,703.4 L837.4,707.4 L840.8,708.8 L844.2,704.2 L847.6,720.0 L851.0,711.1 L854.4,717.3 L857.8,703.0 L861.2,690.9 L864.6,722.9 L868.0,716.1 L871.4,711.4 L874.8,713.0 L878.2,726.5 L881.6,725.2 L885.0,723.9 L888.4,724.4 L891.8,718.5 L895.3,722.5 L898.7,720.9 L902.1,723.9 L905.5,713.8 L908.9,714.5 L912.3,705.7 L915.7,682.1 L919.1,690.8 L922.5,701.9 L925.9,704.3 L929.3,709.1 L932.7,703.9 L936.1,683.3 L939.5,669.5 L942.9,672.9 L946.3,685.7 L949.7,688.6 L953.1,694.5 L956.5,681.9 L959.9,685.2 L963.3,686.3 L966.7,686.3 L970.1,694.6 L973.5,701.3 L976.9,679.0 L980.3,679.0 L983.7,681.8 L987.1,683.2 L990.5,681.1 L993.9,666.7 L997.3,673.5 L1000.7,659.9 L1004.1,649.3 L1007.5,626.6 L1010.9,639.8 L1014.3,658.1 L1017.7,652.2 L1021.1,678.3 L1024.5,688.3 L1027.9,696.3 L1031.4,712.9 L1034.8,711.2 L1038.2,712.7 L1041.6,708.9 L1045.0,710.8 L1048.4,715.3 L1051.8,700.8 L1055.2,703.0 L1058.6,694.6 L1062.0,697.1 L1065.4,665.5 L1068.8,669.8 L1072.2,672.7 L1075.6,653.2 L1079.0,630.6 L1082.4,626.3 L1085.8,616.3 L1089.2,603.1 L1092.6,640.4 L1096.0,660.6 L1099.4,672.1 L1102.8,654.1 L1106.2,646.9 L1109.6,652.2 L1113.0,646.6 L1116.4,637.6 L1119.8,643.5 L1123.2,638.0 L1126.6,630.0 L1130.0,621.0 L1133.4,619.5 L1136.8,591.3 L1140.2,590.5 L1143.6,587.8 L1147.0,571.7 L1150.4,596.0 L1153.8,592.6 L1157.2,596.0 L1160.6,620.4 L1164.1,616.2 L1167.5,622.3 L1170.9,626.4 L1174.3,630.6 L1177.7,642.9 L1181.1,656.9 L1184.5,629.2 L1187.9,619.1 L1191.3,616.1 L1194.7,597.1 L1198.1,578.7 L1201.5,593.6 L1204.9,587.0" stroke="#7e57c2" stroke-width="2" fill="none" stroke-linejoin="round"/></g><line x1="221" y1="129.5" x2="1279" y2="129.5" stroke="#0000ff" stroke-width="3" stroke-dasharray="15,18"/><line x1="708" y1="256.5" x2="1279" y2="256.5" stroke="#0000ff" stroke-width="3" stroke-dasharray="15,18"/><line x1="782" y1="388.5" x2="1279" y2="388.5" stroke="#0000ff" stroke-width="3" stroke-dasharray="15,18"/><line x1="11" y1="554.5" x2="1342" y2="554.5" stroke="#e0e3eb" stroke-width="1"/><line x1="11" y1="743.5" x2="1342" y2="743.5" stroke="#e0e3eb" stroke-width="1"/><line x1="1279.5" y1="59" x2="1279.5" y2="770" stroke="#dfe0e3" stroke-width="1"/><rect x="10" y="27" width="1333" height="743.5" fill="none" stroke="#eaecf0" stroke-width="2"/><text x="10" y="19" font-size="12.5" fill="#131722" font-weight="normal" text-anchor="start" textLength="360" lengthAdjust="spacingAndGlyphs" stroke="#131722" stroke-width="0.2">ranadagger published on TradingView.com, Sep 18, 2023 16:20 UTC</text><text x="18.5" y="45.7" font-size="12" fill="#131722" font-weight="normal" text-anchor="start" textLength="130.8" lengthAdjust="spacingAndGlyphs" stroke="#131722" stroke-width="0.2">Toncoin/Tether, 1D, OKX</text><text x="156.5" y="45.7" font-size="12" fill="#131722" font-weight="normal" text-anchor="start" stroke="#131722" stroke-width="0.2">O</text><text x="165" y="45.7" font-size="12" fill="#26a69a" font-weight="normal" text-anchor="start" textLength="34.6" lengthAdjust="spacingAndGlyphs" stroke="#26a69a" stroke-width="0.2">2.3171</text><text x="208.4" y="45.7" font-size="12" fill="#131722" font-weight="normal" text-anchor="start" stroke="#131722" stroke-width="0.2">H</text><text x="215.8" y="45.7" font-size="12" fill="#26a69a" font-weight="normal" text-anchor="start" textLength="34.9" lengthAdjust="spacingAndGlyphs" stroke="#26a69a" stroke-width="0.2">2.5461</text><text x="258.7" y="45.7" font-size="12" fill="#131722" font-weight="normal" text-anchor="start" stroke="#131722" stroke-width="0.2">L</text><text x="265" y="45.7" font-size="12" fill="#26a69a" font-weight="normal" text-anchor="start" textLength="35" lengthAdjust="spacingAndGlyphs" stroke="#26a69a" stroke-width="0.2">2.2755</text><text x="307.5" y="45.7" font-size="12" fill="#131722" font-weight="normal" text-anchor="start" stroke="#131722" stroke-width="0.2">C</text><text x="315" y="45.7" font-size="12" fill="#26a69a" font-weight="normal" text-anchor="start" textLength="35.3" lengthAdjust="spacingAndGlyphs" stroke="#26a69a" stroke-width="0.2">2.4246</text><text x="358.5" y="45.7" font-size="12" fill="#26a69a" font-weight="normal" text-anchor="start" textLength="90.2" lengthAdjust="spacingAndGlyphs" stroke="#26a69a" stroke-width="0.2">+0.1076 (+4.64%)</text><text x="18.5" y="62.6" font-size="12" fill="#131722" font-weight="normal" text-anchor="start" textLength="95.2" lengthAdjust="spacingAndGlyphs" stroke="#131722" stroke-width="0.2">EMA (20, close, 0)</text><text x="122.4" y="62.6" font-size="12" fill="#0c3299" font-weight="normal" text-anchor="start" textLength="34.6" lengthAdjust="spacingAndGlyphs" stroke="#0c3299" stroke-width="0.2">1.9282</text><text x="18.5" y="79.9" font-size="12" fill="#131722" font-weight="normal" text-anchor="start" textLength="88.5" lengthAdjust="spacingAndGlyphs" stroke="#131722" stroke-width="0.2">MA (50, close, 0)</text><text x="115.7" y="79.9" font-size="12" fill="#f23645" font-weight="normal" text-anchor="start" textLength="35.3" lengthAdjust="spacingAndGlyphs" stroke="#f23645" stroke-width="0.2">1.5716</text><text x="18.2" y="574" font-size="12" fill="#131722" font-weight="normal" text-anchor="start" textLength="75.2" lengthAdjust="spacingAndGlyphs" stroke="#131722" stroke-width="0.2">RSI (14, close)</text><text x="101.6" y="574" font-size="12" fill="#7e57c2" font-weight="normal" text-anchor="start" textLength="29.4" lengthAdjust="spacingAndGlyphs" stroke="#7e57c2" stroke-width="0.2">76.97</text><text x="1287" y="82.68000000000005" font-size="12" fill="#131722" font-weight="normal" text-anchor="start" textLength="35" lengthAdjust="spacingAndGlyphs" stroke="#131722" stroke-width="0.2">2.8000</text><text x="1287" y="229.01999999999998" font-size="12" fill="#131722" font-weight="normal" text-anchor="start" textLength="35" lengthAdjust="spacingAndGlyphs" stroke="#131722" stroke-width="0.2">2.2000</text><text x="1287" y="277.8" font-size="12" fill="#131722" font-weight="normal" text-anchor="start" textLength="35" lengthAdjust="spacingAndGlyphs" stroke="#131722" stroke-width="0.2">2.0000</text><text x="1287" y="326.58" font-size="12" fill="#131722" font-weight="normal" text-anchor="start" textLength="35" lengthAdjust="spacingAndGlyphs" stroke="#131722" stroke-width="0.2">1.8000</text><text x="1287" y="375.35999999999996" font-size="12" fill="#131722" font-weight="normal" text-anchor="start" textLength="35" lengthAdjust="spacingAndGlyphs" stroke="#131722" stroke-width="0.2">1.6000</text><text x="1287" y="424.14000000000004" font-size="12" fill="#131722" font-weight="normal" text-anchor="start" textLength="35" lengthAdjust="spacingAndGlyphs" stroke="#131722" stroke-width="0.2">1.4000</text><text x="1287" y="472.92" font-size="12" fill="#131722" font-weight="normal" text-anchor="start" textLength="35" lengthAdjust="spacingAndGlyphs" stroke="#131722" stroke-width="0.2">1.2000</text><text x="1287" y="521.6999999999999" font-size="12" fill="#131722" font-weight="normal" text-anchor="start" textLength="35" lengthAdjust="spacingAndGlyphs" stroke="#131722" stroke-width="0.2">1.0000</text><g clip-path="url(#rsiaxis)"><text x="1287" y="582.9749999999999" font-size="12" fill="#131722" font-weight="normal" text-anchor="start" textLength="29.5" lengthAdjust="spacingAndGlyphs" stroke="#131722" stroke-width="0.2">80.00</text><text x="1287" y="636.7249999999999" font-size="12" fill="#131722" font-weight="normal" text-anchor="start" textLength="29.5" lengthAdjust="spacingAndGlyphs" stroke="#131722" stroke-width="0.2">60.00</text><text x="1287" y="690.4749999999999" font-size="12" fill="#131722" font-weight="normal" text-anchor="start" textLength="29.5" lengthAdjust="spacingAndGlyphs" stroke="#131722" stroke-width="0.2">40.00</text><text x="1287" y="744.2249999999999" font-size="12" fill="#131722" font-weight="normal" text-anchor="start" textLength="29.5" lengthAdjust="spacingAndGlyphs" stroke="#131722" stroke-width="0.2">20.00</text></g><text x="102.58" y="761" font-size="12" fill="#131722" font-weight="normal" text-anchor="start" textLength="19.85" lengthAdjust="spacingAndGlyphs" stroke="#131722" stroke-width="0.2">Nov</text><text x="204.57" y="761" font-size="12" fill="#131722" font-weight="normal" text-anchor="start" textLength="19.85" lengthAdjust="spacingAndGlyphs" stroke="#131722" stroke-width="0.2">Dec</text><text x="306.85" y="761" font-size="12" fill="#131722" font-weight="bold" text-anchor="start" textLength="27.3" lengthAdjust="spacingAndGlyphs" >2023</text><text x="415.89" y="761" font-size="12" fill="#131722" font-weight="normal" text-anchor="start" textLength="19.22" lengthAdjust="spacingAndGlyphs" stroke="#131722" stroke-width="0.2">Feb</text><text x="510.89" y="761" font-size="12" fill="#131722" font-weight="normal" text-anchor="start" textLength="19.22" lengthAdjust="spacingAndGlyphs" stroke="#131722" stroke-width="0.2">Mar</text><text x="617.82" y="761" font-size="12" fill="#131722" font-weight="normal" text-anchor="start" textLength="17.36" lengthAdjust="spacingAndGlyphs" stroke="#131722" stroke-width="0.2">Apr</text><text x="717.96" y="761" font-size="12" fill="#131722" font-weight="normal" text-anchor="start" textLength="21.08" lengthAdjust="spacingAndGlyphs" stroke="#131722" stroke-width="0.2">May</text><text x="825.5" y="761" font-size="12" fill="#131722" font-weight="normal" text-anchor="start" textLength="17.99" lengthAdjust="spacingAndGlyphs" stroke="#131722" stroke-width="0.2">Jun</text><text x="929.37" y="761" font-size="12" fill="#131722" font-weight="normal" text-anchor="start" textLength="14.27" lengthAdjust="spacingAndGlyphs" stroke="#131722" stroke-width="0.2">Jul</text><text x="1031.58" y="761" font-size="12" fill="#131722" font-weight="normal" text-anchor="start" textLength="19.85" lengthAdjust="spacingAndGlyphs" stroke="#131722" stroke-width="0.2">Aug</text><text x="1137.58" y="761" font-size="12" fill="#131722" font-weight="normal" text-anchor="start" textLength="19.85" lengthAdjust="spacingAndGlyphs" stroke="#131722" stroke-width="0.2">Sep</text><text x="1240.83" y="761" font-size="12" fill="#131722" font-weight="normal" text-anchor="start" textLength="17.35" lengthAdjust="spacingAndGlyphs" stroke="#131722" stroke-width="0.2">Oct</text><text x="13.5" y="761" font-size="12" fill="#131722" font-weight="normal" text-anchor="middle" stroke="#131722" stroke-width="0.2">3</text><line x1="11" y1="169.5" x2="1219" y2="169.5" stroke="#26a69a" stroke-width="1" stroke-dasharray="1,2" stroke-dashoffset="1"/><path d="M1279,121H1326Q1328,121 1328,123V136Q1328,138 1326,138H1279Q1279,138 1279,138V121Q1279,121 1279,121Z" fill="#0000ff"/><text x="1287" y="133.6" font-size="12" fill="#ffffff" font-weight="normal" text-anchor="start" textLength="35" lengthAdjust="spacingAndGlyphs" stroke="#ffffff" stroke-width="0.35">2.5900</text><path d="M1221,161H1278Q1278,161 1278,161V178Q1278,178 1278,178H1221Q1219,178 1219,176V163Q1219,161 1221,161Z" fill="#26a69a"/><text x="1224" y="173.8" font-size="12" fill="#ffffff" font-weight="normal" text-anchor="start" textLength="48.3" lengthAdjust="spacingAndGlyphs" stroke="#ffffff" stroke-width="0.35">TONUSDT</text><path d="M1279,161H1337Q1339,161 1339,163V204Q1339,206 1337,206H1279Q1279,206 1279,206V161Q1279,161 1279,161Z" fill="#26a69a"/><text x="1287" y="174.3" font-size="12" fill="#ffffff" font-weight="normal" text-anchor="start" textLength="35" lengthAdjust="spacingAndGlyphs" stroke="#ffffff" stroke-width="0.35">2.4246</text><text x="1287" y="188.2" font-size="12" fill="#ffffff" font-weight="normal" text-anchor="start" textLength="42" lengthAdjust="spacingAndGlyphs" stroke="#ffffff" stroke-width="0.35">+74.81%</text><text x="1287" y="201.9" font-size="12" fill="#d9f2ee" font-weight="normal" text-anchor="start" textLength="45" lengthAdjust="spacingAndGlyphs" stroke="#d9f2ee" stroke-width="0.35">07:39:07</text><path d="M1279,248H1326Q1328,248 1328,250V263Q1328,265 1326,265H1279Q1279,265 1279,265V248Q1279,248 1279,248Z" fill="#0000ff"/><text x="1287" y="260.6" font-size="12" fill="#ffffff" font-weight="normal" text-anchor="start" textLength="35" lengthAdjust="spacingAndGlyphs" stroke="#ffffff" stroke-width="0.35">2.0700</text><path d="M1248,282H1278Q1278,282 1278,282V299Q1278,299 1278,299H1248Q1246,299 1246,297V284Q1246,282 1248,282Z" fill="#0c3299"/><text x="1251" y="294.6" font-size="12" fill="#ffffff" font-weight="normal" text-anchor="start" textLength="22" lengthAdjust="spacingAndGlyphs" stroke="#ffffff" stroke-width="0.35">EMA</text><path d="M1279,282H1326Q1328,282 1328,284V297Q1328,299 1326,299H1279Q1279,299 1279,299V282Q1279,282 1279,282Z" fill="#0c3299"/><text x="1287" y="294.6" font-size="12" fill="#ffffff" font-weight="normal" text-anchor="start" textLength="35" lengthAdjust="spacingAndGlyphs" stroke="#ffffff" stroke-width="0.35">1.9282</text><path d="M1255,369H1278Q1278,369 1278,369V386Q1278,386 1278,386H1255Q1253,386 1253,384V371Q1253,369 1255,369Z" fill="#f23645"/><text x="1257.5" y="381.6" font-size="12" fill="#ffffff" font-weight="normal" text-anchor="start" textLength="16.5" lengthAdjust="spacingAndGlyphs" stroke="#ffffff" stroke-width="0.35">MA</text><path d="M1279,369H1326Q1328,369 1328,371V384Q1328,386 1326,386H1279Q1279,386 1279,386V369Q1279,369 1279,369Z" fill="#f23645"/><text x="1287" y="381.6" font-size="12" fill="#ffffff" font-weight="normal" text-anchor="start" textLength="35" lengthAdjust="spacingAndGlyphs" stroke="#ffffff" stroke-width="0.35">1.5716</text><path d="M1279,386H1326Q1328,386 1328,388V401Q1328,403 1326,403H1279Q1279,403 1279,403V386Q1279,386 1279,386Z" fill="#0000ff"/><text x="1287" y="398.6" font-size="12" fill="#ffffff" font-weight="normal" text-anchor="start" textLength="35" lengthAdjust="spacingAndGlyphs" stroke="#ffffff" stroke-width="0.35">1.5300</text><path d="M1254,578H1278Q1278,578 1278,578V595Q1278,595 1278,595H1254Q1252,595 1252,593V580Q1252,578 1254,578Z" fill="#7e57c2"/><text x="1256.5" y="590.6" font-size="12" fill="#ffffff" font-weight="normal" text-anchor="start" textLength="17" lengthAdjust="spacingAndGlyphs" stroke="#ffffff" stroke-width="0.35">RSI</text><path d="M1279,578H1320Q1322,578 1322,580V593Q1322,595 1320,595H1279Q1279,595 1279,595V578Q1279,578 1279,578Z" fill="#7e57c2"/><text x="1287" y="590.6" font-size="12" fill="#ffffff" font-weight="normal" text-anchor="start" textLength="29.5" lengthAdjust="spacingAndGlyphs" stroke="#ffffff" stroke-width="0.35">76.97</text><rect x="1283.8" y="31.2" width="55.4" height="23.2" rx="4" fill="#fff" stroke="#e9ebf0" stroke-width="1.6"/><text x="1292.5" y="47.7" font-size="12" fill="#131722" font-weight="normal" text-anchor="start" textLength="27.3" lengthAdjust="spacingAndGlyphs" stroke="#131722" stroke-width="0.2">USDT</text><circle cx="1204.5" cy="541.5" r="9.6" fill="none" stroke="#9c27b0" stroke-width="1.5"/><path d="M1207.9,536.1L1200.2,541.9H1204.3L1201.1,546.9L1208.7,541.0H1204.6Z" fill="#9c27b0" stroke="#9c27b0" stroke-width="0.7" stroke-linejoin="round"/><path d="M10.1,783.0H17.7V792.5H14.2V786.5H10.1Z" fill="#131722"/><circle cx="21.0" cy="785.0" r="1.8" fill="#131722"/><path d="M25.3,783.0H29.8L25.5,792.5H21.5Z" fill="#131722"/><text x="33.5" y="792.6" font-size="12.2" fill="#131722" font-weight="normal" text-anchor="start" textLength="69.8" lengthAdjust="spacingAndGlyphs" stroke="#131722" stroke-width="0.2">TradingView</text>
</svg></body></html>
